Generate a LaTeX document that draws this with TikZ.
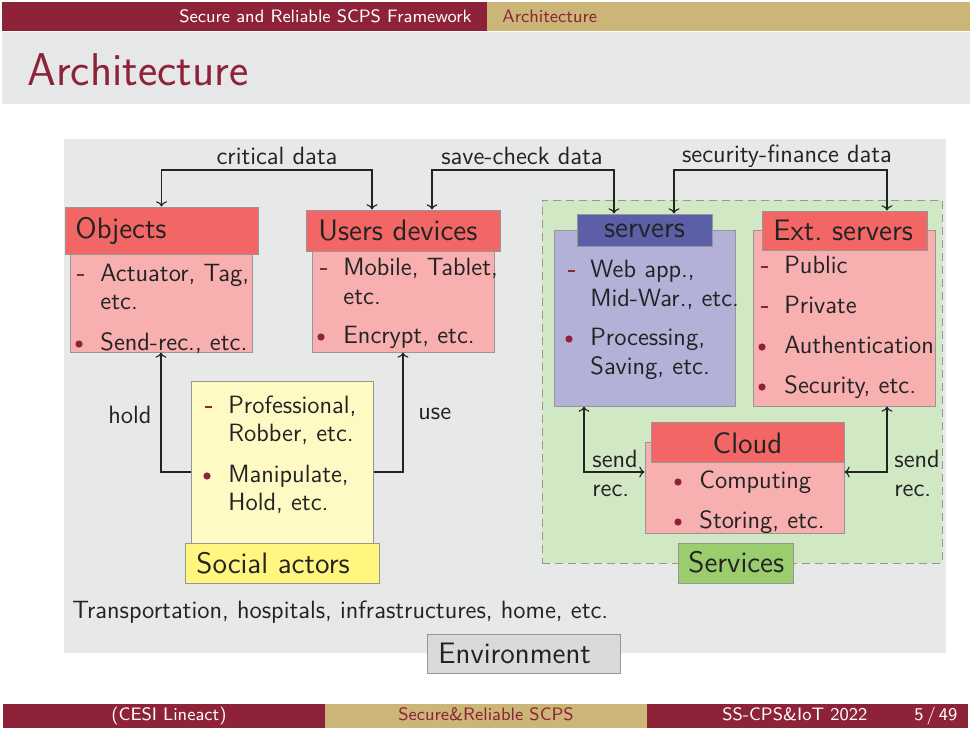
\documentclass[tikz,border=0pt]{standalone}
\usetikzlibrary{fit,calc,arrows.meta}
\definecolor{slidered}{RGB}{142,34,57}
\definecolor{gold}{RGB}{203,182,119}
\definecolor{bandgray}{RGB}{230,231,232}
\definecolor{diaggray}{RGB}{231,232,232}
\definecolor{hdrred}{RGB}{242,102,102}
\definecolor{bodypink}{RGB}{248,175,175}
\definecolor{srvblue}{RGB}{91,95,168}
\definecolor{srvbody}{RGB}{179,177,216}
\definecolor{svcgreen}{RGB}{208,232,196}
\definecolor{svclabel}{RGB}{155,205,110}
\definecolor{socbody}{RGB}{255,249,196}
\definecolor{soclabel}{RGB}{255,245,127}
\definecolor{envgray}{RGB}{217,218,219}
\definecolor{bgray}{RGB}{150,150,150}
\definecolor{txt}{RGB}{35,35,35}
\newcommand\xdash[2]{\draw[slidered,line width=0.9pt] (#1-3.5,#2-6) -- (#1+3.5,#2-6);}
\newcommand\xbul[2]{\fill[slidered] (#1,#2-6) circle (3.6);}
\begin{document}
\begin{tikzpicture}[x=0.5pt,y=-0.5pt,
  every node/.style={font=\sffamily\fontsize{12.5}{14}\selectfont, text=txt, inner sep=0pt},
  txtl/.style={anchor=base west},
  hdrfont/.style={font=\sffamily\fontsize{14.8}{16}\selectfont},
  box/.style={draw=bgray, line width=0.5pt, inner sep=0pt},
  conn/.style={draw=txt, line width=0.55pt, >={To[length=2.6pt,width=5.5pt]}},
  footfont/.style={font=\sffamily\fontsize{9}{11}\selectfont}]
\useasboundingbox (0,0) rectangle (970,729);
\fill[white] (0,0) rectangle (970,729);
% ---- slide frame ----
\fill[slidered] (2,2) rectangle (487,31);
\fill[gold] (487,2) rectangle (970,31);
\node[footfont, anchor=base east, text=white] (hl) at (472,22) {Secure and Reliable SCPS Framework};
\node[footfont, anchor=base west, text=slidered] (hr) at (502,22) {Architecture};
\fill[bandgray] (2,32) rectangle (970,104);
\node[anchor=base west, text=slidered, font=\sffamily\fontsize{23}{26}\selectfont] (title) at (27,85) {Architecture};
\fill[slidered] (3,704) rectangle (325,728);
\fill[gold] (325,704) rectangle (647,728);
\fill[slidered] (647,704) rectangle (968,728);
\node[footfont, anchor=base, text=white] (f1) at (169,720) {(CESI Lineact)};
\node[footfont, anchor=base, text=slidered] (f2) at (486,720) {Secure\&Reliable SCPS};
\node[footfont, anchor=base west, text=white] (f3) at (722,720) {SS-CPS\&IoT 2022};
\node[footfont, anchor=base west, text=white] (f4) at (914,720) {5\,/\,49};
% ---- diagram background ----
\fill[diaggray] (64,139) rectangle (946,653);
% services area
\node[draw=bgray, dash pattern=on 4pt off 2.5pt, line width=0.5pt, fill=svcgreen, inner sep=0pt, fit={(542,200)(942,563)}] (svc) {};
% Objects
\node[box, fill=bodypink, fit={(70,254)(252,352)}] (objb) {};
\node[box, fill=hdrred, fit={(65,207)(258,254)}] (objh) {};
\node[hdrfont, txtl] (objt) at (75,238) {Objects};
\xdash{80}{281}
\node[txtl] (o1) at (100,281) {Actuator, Tag,};
\node[txtl] (o2) at (100,309) {etc.};
\xbul{79}{350}
\node[txtl] (o3) at (100,350) {Send-rec., etc.};
% Users devices
\node[box, fill=bodypink, fit={(312,251)(494,352)}] (usb) {};
\node[box, fill=hdrred, fit={(306,210)(500,251)}] (ush) {};
\node[hdrfont, txtl] (ust) at (318,240) {Users devices};
\xdash{323}{275}
\node[txtl] (u1) at (343,275) {Mobile, Tablet,};
\node[txtl] (u2) at (343,304) {etc.};
\xbul{321}{343}
\node[txtl] (u3) at (343,343) {Encrypt, etc.};
% servers
\node[box, fill=srvbody, fit={(554,230)(735,406)}] (srvb) {};
\node[box, fill=srvblue, fit={(577,214)(712,246)}] (srvh) {};
\node[hdrfont, anchor=base] (srvt) at (644.5,237) {servers};
\xdash{571}{277}
\node[txtl] (s1) at (590,277) {Web app.,};
\node[txtl] (s2) at (590,306) {Mid-War., etc.};
\xbul{569}{345}
\node[txtl] (s3) at (590,345) {Processing,};
\node[txtl] (s4) at (590,374) {Saving, etc.};
% Ext. servers
\node[box, fill=bodypink, fit={(753,230)(935,406)}] (extb) {};
\node[box, fill=hdrred, fit={(762,211)(927,250)}] (exth) {};
\node[hdrfont, txtl] (extt) at (773,240) {Ext.\ servers};
\xdash{764}{273}
\node[txtl] (e1) at (784,273) {Public};
\xdash{764}{313}
\node[txtl] (e2) at (784,313) {Private};
\xbul{762}{353}
\node[txtl] (e3) at (784,353) {Authentication};
\xbul{762}{393}
\node[txtl] (e4) at (784,393) {Security, etc.};
% Cloud
\node[box, fill=bodypink, fit={(645,442)(844,533)}] (cldb) {};
\node[box, fill=hdrred, fit={(651,422)(844,462)}] (cldh) {};
\node[hdrfont, anchor=base] (cldt) at (747.5,453) {Cloud};
\xbul{678}{488}
\node[txtl] (c1) at (699,488) {Computing};
\xbul{678}{528}
\node[txtl] (c2) at (699,528) {Storing, etc.};
% Services label
\node[box, fill=svclabel, fit={(678,543)(793,583)}] (svcl) {};
\node[hdrfont, txtl] (svct) at (688,572) {Services};
% Social actors
\node[box, fill=socbody, fit={(191,381)(373,543)}] (socb) {};
\node[box, fill=soclabel, fit={(185,543)(379,583)}] (socl) {};
\node[hdrfont, txtl] (soct) at (196,573) {Social actors};
\xdash{208}{413}
\node[txtl] (a1) at (228,413) {Professional,};
\node[txtl] (a2) at (228,441) {Robber, etc.};
\xbul{207}{482}
\node[txtl] (a3) at (228,482) {Manipulate,};
\node[txtl] (a4) at (228,510) {Hold, etc.};
% Environment
\node[txtl] (envtext) at (72,618) {Transportation, hospitals, infrastructures, home, etc.};
\node[box, fill=envgray, fit={(427,634)(620,673)}] (envl) {};
\node[hdrfont, txtl] (envt) at (438,663) {Environment};
% ---- connectors ----
\coordinate (t1) at (277,170);
\coordinate (t2) at (522,170);
\coordinate (t3) at (780,170);
\draw[conn,<->] (objh.north) |- (t1) -| ($(ush.north)+(-31,0)$);
\node[anchor=base] (l1) at (277,164) {critical data};
\draw[conn,<->] ($(ush.north)+(29,0)$) |- (t2) -| ($(srvh.north)+(-30.5,0)$);
\node[anchor=base] (l2) at (522,164) {save-check data};
\draw[conn,<->] ($(srvh.north)+(29.5,0)$) |- (t3) -| ($(exth.north)+(42.5,0)$);
\node[anchor=base] (l3) at (787,162) {security-finance data};
\draw[conn,->] ($(socb.west)+(0,10)$) -| (objb.south);
\node[txtl] (l4) at (108,423) {hold};
\draw[conn,->] ($(socb.east)+(0,10)$) -| (usb.south);
\node[txtl] (l5) at (418,419) {use};
\draw[conn,<->] ($(srvb.south)+(-60.5,0)$) |- ($(cldb.west)+(0,-15.5)$);
\node[txtl] (l6) at (592,467) {send};
\node[txtl] (l7) at (592,496) {rec.};
\draw[conn,<->] ($(extb.south)+(43,0)$) |- ($(cldb.east)+(0,-15.5)$);
\node[txtl] (l8) at (894,467) {send};
\node[txtl] (l9) at (894,496) {rec.};
\end{tikzpicture}
\end{document}
